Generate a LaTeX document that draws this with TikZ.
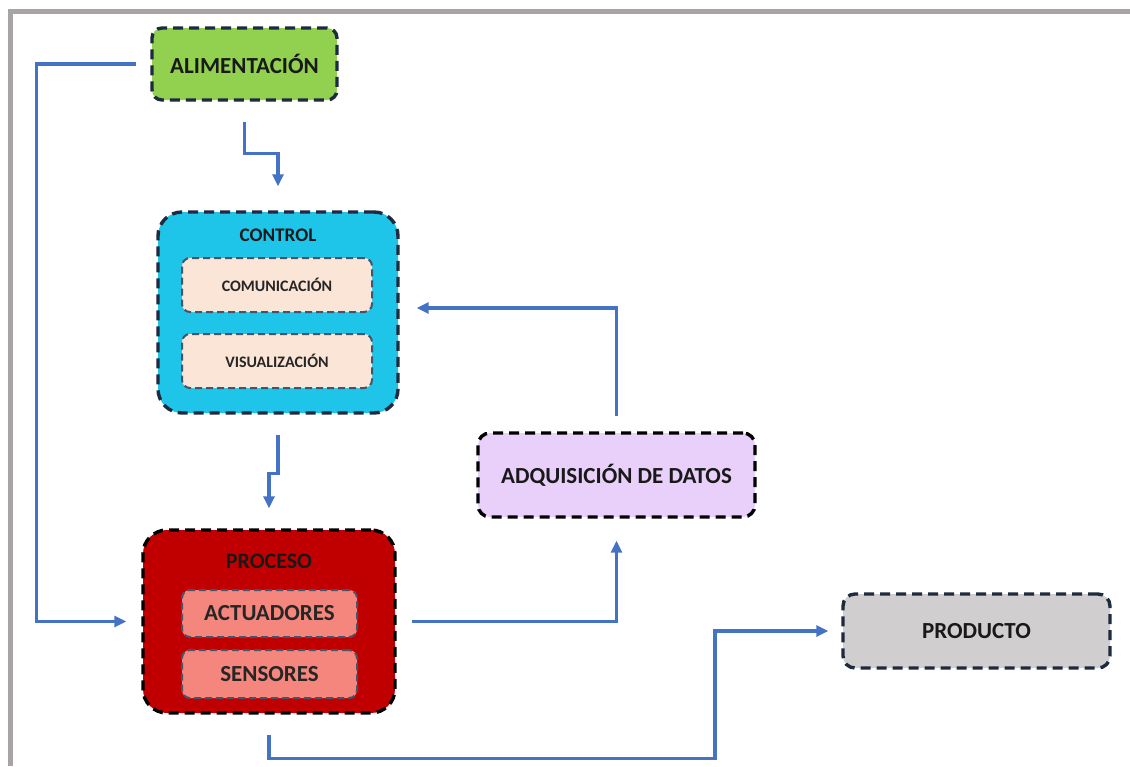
\documentclass[tikz,border=0pt]{standalone}
\usepackage{fontspec}
\setmainfont{Carlito}
\usetikzlibrary{arrows.meta}
\definecolor{alimgreen}{HTML}{92D050}
\definecolor{ctrlcyan}{HTML}{1FC4E9}
\definecolor{peach}{HTML}{FBE5D6}
\definecolor{procred}{HTML}{C00000}
\definecolor{salmon}{HTML}{F5867D}
\definecolor{lavender}{HTML}{E8D0FA}
\definecolor{prodgray}{HTML}{D0CECE}
\definecolor{flowblue}{HTML}{4472C4}
\definecolor{navyline}{HTML}{1E2A3E}
\definecolor{innerline}{HTML}{44546A}
\definecolor{framegray}{HTML}{A8A4A4}
\begin{document}
\begin{tikzpicture}[x=0.5pt, y=-0.5pt,
    box/.style={draw=navyline, line width=1.7pt, dash pattern=on 5pt off 3pt, rounded corners=5pt, align=center, text=black!90, font=\fontsize{11.5}{13}\selectfont\bfseries},
    inbox/.style={draw=innerline, line width=1pt, dash pattern=on 3.5pt off 2pt, rounded corners=4pt, align=center, text=black!85},
    arrow/.style={-{Triangle[length=6pt, width=5.5pt]}, line width=1.7pt, draw=flowblue}
]
    \useasboundingbox (0,0) rectangle (1130,766);
    % Frame
    \draw[framegray, line width=2.5pt] (1130,11) -- (10,11) -- (10,766);

    % Supply and control
    \node[box, fill=alimgreen, minimum width=92.5pt, minimum height=36pt] (alim) at (244.5,64) {ALIMENTACIÓN};
    \node[box, fill=ctrlcyan, rounded corners=12pt, minimum width=120pt, minimum height=100.5pt,
        label={[anchor=north, yshift=-9pt, inner sep=0pt, font=\fontsize{9.6}{11}\selectfont\bfseries, text=black!90]north:CONTROL}] (control) at (278,312.5) {};
    \node[inbox, fill=peach, minimum width=95pt, minimum height=27pt, font=\fontsize{8}{9}\selectfont\bfseries] (comun) at (277,285) {COMUNICACIÓN};
    \node[inbox, fill=peach, minimum width=95pt, minimum height=27pt, font=\fontsize{8}{9}\selectfont\bfseries] (visual) at (277,361) {VISUALIZACIÓN};

    % Process
    \node[box, draw=black, fill=procred, rounded corners=12pt, minimum width=126pt, minimum height=91.5pt,
        label={[anchor=north, yshift=-12.5pt, inner sep=0pt, font=\fontsize{11}{13}\selectfont\bfseries, text=black!90]north:PROCESO}] (proceso) at (269,621.5) {};
    \node[inbox, fill=salmon, minimum width=87.5pt, minimum height=23.5pt, font=\fontsize{11.5}{13}\selectfont\bfseries] (actua) at (269.5,613.5) {ACTUADORES};
    \node[inbox, fill=salmon, minimum width=87.5pt, minimum height=24pt, font=\fontsize{11.5}{13}\selectfont\bfseries] (sensor) at (269.5,674) {SENSORES};

    % Data and product
    \node[box, draw=black, fill=lavender, rounded corners=6pt, minimum width=138.5pt, minimum height=42pt] (adq) at (616.5,475) {ADQUISICIÓN DE DATOS};
    \node[box, fill=prodgray, rounded corners=6pt, minimum width=133.5pt, minimum height=37pt] (producto) at (976.5,631) {PRODUCTO};

    % Arrows
    \draw[arrow, shorten <=10pt, shorten >=12pt] (alim.south) -- ++(0,52) -| (control.north);
    \draw[arrow, shorten <=10pt, shorten >=10pt] (control.south) -- ++(0,59) -| (proceso.north);
    \draw[arrow, shorten <=7pt, shorten >=7.5pt] (alim.west) -- ++(-114,0) |- (proceso.west);
    \draw[arrow, shorten <=7.5pt, shorten >=11pt] (proceso.east) -| (adq.south);
    \draw[arrow, shorten <=7.5pt, shorten >=8.5pt] (adq.north) |- ([yshift=2.25pt]control.east);
    \draw[arrow, shorten <=10pt, shorten >=6.5pt] (proceso.south) -- ++(0,44) -- ++(446,0) |- (producto.west);
\end{tikzpicture}
\end{document}
